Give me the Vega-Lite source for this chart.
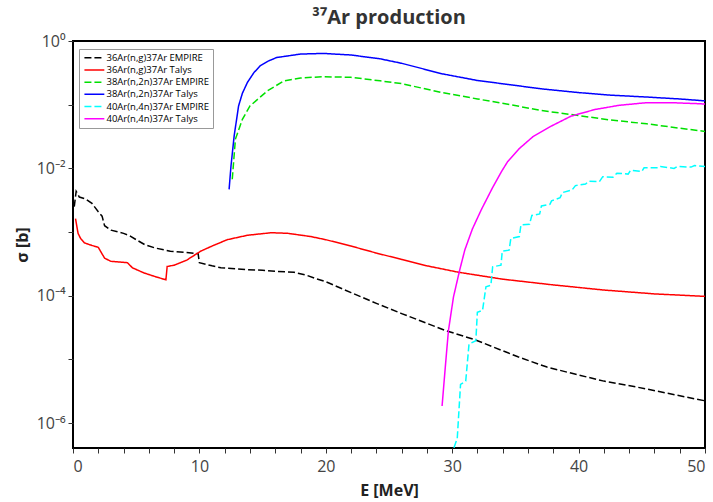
{
  "$schema": "https://vega.github.io/schema/vega-lite/v6.json",
  "autosize": {"type": "none"},
  "padding": {"left": 73, "top": 41, "right": 8, "bottom": 54},
  "width": 632,
  "height": 407,
  "background": "white",
  "title": {"text": "³⁷Ar production", "fontSize": 20, "fontWeight": "bold", "color": "#333333", "font": "Open Sans", "anchor": "middle", "offset": 5},
  "config": {
    "view": {"stroke": "#000000", "strokeWidth": 2},
    "axis": {"domain": false, "grid": false, "labelFont": "Open Sans", "labelFontSize": 16, "labelColor": "#444444", "tickColor": "#333333", "tickSize": 5, "tickWidth": 1, "titleFont": "Open Sans", "titleFontSize": 16, "titleFontWeight": "bold", "titleColor": "#222222"},
    "legend": {"labelFont": "Open Sans", "labelFontSize": 9.5, "labelColor": "#000000"}
  },
  "data": {"values": [
    {"series": "36Ar(n,g)37Ar EMPIRE", "E": 0.1, "sigma": 2.512e-3},
    {"series": "36Ar(n,g)37Ar EMPIRE", "E": 0.25, "sigma": 4.365e-3},
    {"series": "36Ar(n,g)37Ar EMPIRE", "E": 0.5, "sigma": 3.548e-3},
    {"series": "36Ar(n,g)37Ar EMPIRE", "E": 1.0, "sigma": 3.311e-3},
    {"series": "36Ar(n,g)37Ar EMPIRE", "E": 1.5, "sigma": 2.818e-3},
    {"series": "36Ar(n,g)37Ar EMPIRE", "E": 2.0, "sigma": 2.089e-3},
    {"series": "36Ar(n,g)37Ar EMPIRE", "E": 2.3, "sigma": 1.778e-3},
    {"series": "36Ar(n,g)37Ar EMPIRE", "E": 2.5, "sigma": 1.259e-3},
    {"series": "36Ar(n,g)37Ar EMPIRE", "E": 3.0, "sigma": 1.072e-3},
    {"series": "36Ar(n,g)37Ar EMPIRE", "E": 4.0, "sigma": 9.55e-4},
    {"series": "36Ar(n,g)37Ar EMPIRE", "E": 4.5, "sigma": 8.71e-4},
    {"series": "36Ar(n,g)37Ar EMPIRE", "E": 5.0, "sigma": 7.59e-4},
    {"series": "36Ar(n,g)37Ar EMPIRE", "E": 5.7, "sigma": 6.31e-4},
    {"series": "36Ar(n,g)37Ar EMPIRE", "E": 6.5, "sigma": 5.62e-4},
    {"series": "36Ar(n,g)37Ar EMPIRE", "E": 7.7, "sigma": 5.01e-4},
    {"series": "36Ar(n,g)37Ar EMPIRE", "E": 9.0, "sigma": 4.79e-4},
    {"series": "36Ar(n,g)37Ar EMPIRE", "E": 9.9, "sigma": 4.57e-4},
    {"series": "36Ar(n,g)37Ar EMPIRE", "E": 10.0, "sigma": 3.31e-4},
    {"series": "36Ar(n,g)37Ar EMPIRE", "E": 11.0, "sigma": 2.95e-4},
    {"series": "36Ar(n,g)37Ar EMPIRE", "E": 11.7, "sigma": 2.75e-4},
    {"series": "36Ar(n,g)37Ar EMPIRE", "E": 13.8, "sigma": 2.57e-4},
    {"series": "36Ar(n,g)37Ar EMPIRE", "E": 15.0, "sigma": 2.51e-4},
    {"series": "36Ar(n,g)37Ar EMPIRE", "E": 16.2, "sigma": 2.40e-4},
    {"series": "36Ar(n,g)37Ar EMPIRE", "E": 17.5, "sigma": 2.34e-4},
    {"series": "36Ar(n,g)37Ar EMPIRE", "E": 18.5, "sigma": 2.09e-4},
    {"series": "36Ar(n,g)37Ar EMPIRE", "E": 19.2, "sigma": 1.86e-4},
    {"series": "36Ar(n,g)37Ar EMPIRE", "E": 20.0, "sigma": 1.66e-4},
    {"series": "36Ar(n,g)37Ar EMPIRE", "E": 22.0, "sigma": 1.12e-4},
    {"series": "36Ar(n,g)37Ar EMPIRE", "E": 24.0, "sigma": 7.59e-5},
    {"series": "36Ar(n,g)37Ar EMPIRE", "E": 26.0, "sigma": 5.25e-5},
    {"series": "36Ar(n,g)37Ar EMPIRE", "E": 29.4, "sigma": 2.88e-5},
    {"series": "36Ar(n,g)37Ar EMPIRE", "E": 31.8, "sigma": 2.04e-5},
    {"series": "36Ar(n,g)37Ar EMPIRE", "E": 35.2, "sigma": 1.10e-5},
    {"series": "36Ar(n,g)37Ar EMPIRE", "E": 37.5, "sigma": 7.59e-6},
    {"series": "36Ar(n,g)37Ar EMPIRE", "E": 39.7, "sigma": 5.89e-6},
    {"series": "36Ar(n,g)37Ar EMPIRE", "E": 42.0, "sigma": 4.57e-6},
    {"series": "36Ar(n,g)37Ar EMPIRE", "E": 44.5, "sigma": 3.72e-6},
    {"series": "36Ar(n,g)37Ar EMPIRE", "E": 47.0, "sigma": 2.95e-6},
    {"series": "36Ar(n,g)37Ar EMPIRE", "E": 50.0, "sigma": 2.24e-6},

    {"series": "36Ar(n,g)37Ar Talys", "E": 0.2, "sigma": 1.622e-3},
    {"series": "36Ar(n,g)37Ar Talys", "E": 0.4, "sigma": 9.55e-4},
    {"series": "36Ar(n,g)37Ar Talys", "E": 0.6, "sigma": 7.94e-4},
    {"series": "36Ar(n,g)37Ar Talys", "E": 0.9, "sigma": 6.76e-4},
    {"series": "36Ar(n,g)37Ar Talys", "E": 1.5, "sigma": 6.17e-4},
    {"series": "36Ar(n,g)37Ar Talys", "E": 2.0, "sigma": 5.75e-4},
    {"series": "36Ar(n,g)37Ar Talys", "E": 2.5, "sigma": 3.89e-4},
    {"series": "36Ar(n,g)37Ar Talys", "E": 3.0, "sigma": 3.47e-4},
    {"series": "36Ar(n,g)37Ar Talys", "E": 4.3, "sigma": 3.31e-4},
    {"series": "36Ar(n,g)37Ar Talys", "E": 4.7, "sigma": 2.75e-4},
    {"series": "36Ar(n,g)37Ar Talys", "E": 5.6, "sigma": 2.29e-4},
    {"series": "36Ar(n,g)37Ar Talys", "E": 6.5, "sigma": 2.00e-4},
    {"series": "36Ar(n,g)37Ar Talys", "E": 7.35, "sigma": 1.78e-4},
    {"series": "36Ar(n,g)37Ar Talys", "E": 7.45, "sigma": 2.88e-4},
    {"series": "36Ar(n,g)37Ar Talys", "E": 8.0, "sigma": 3.02e-4},
    {"series": "36Ar(n,g)37Ar Talys", "E": 9.0, "sigma": 3.63e-4},
    {"series": "36Ar(n,g)37Ar Talys", "E": 10.1, "sigma": 5.01e-4},
    {"series": "36Ar(n,g)37Ar Talys", "E": 11.0, "sigma": 6.03e-4},
    {"series": "36Ar(n,g)37Ar Talys", "E": 12.2, "sigma": 7.59e-4},
    {"series": "36Ar(n,g)37Ar Talys", "E": 13.8, "sigma": 8.91e-4},
    {"series": "36Ar(n,g)37Ar Talys", "E": 15.7, "sigma": 9.77e-4},
    {"series": "36Ar(n,g)37Ar Talys", "E": 17.0, "sigma": 9.55e-4},
    {"series": "36Ar(n,g)37Ar Talys", "E": 18.8, "sigma": 8.51e-4},
    {"series": "36Ar(n,g)37Ar Talys", "E": 20.0, "sigma": 7.59e-4},
    {"series": "36Ar(n,g)37Ar Talys", "E": 22.0, "sigma": 6.03e-4},
    {"series": "36Ar(n,g)37Ar Talys", "E": 24.0, "sigma": 4.68e-4},
    {"series": "36Ar(n,g)37Ar Talys", "E": 26.0, "sigma": 3.72e-4},
    {"series": "36Ar(n,g)37Ar Talys", "E": 28.0, "sigma": 2.95e-4},
    {"series": "36Ar(n,g)37Ar Talys", "E": 30.5, "sigma": 2.34e-4},
    {"series": "36Ar(n,g)37Ar Talys", "E": 34.0, "sigma": 1.82e-4},
    {"series": "36Ar(n,g)37Ar Talys", "E": 38.0, "sigma": 1.48e-4},
    {"series": "36Ar(n,g)37Ar Talys", "E": 42.0, "sigma": 1.23e-4},
    {"series": "36Ar(n,g)37Ar Talys", "E": 46.0, "sigma": 1.07e-4},
    {"series": "36Ar(n,g)37Ar Talys", "E": 50.0, "sigma": 9.77e-5},

    {"series": "38Ar(n,2n)37Ar EMPIRE", "E": 12.6, "sigma": 6.76e-3},
    {"series": "38Ar(n,2n)37Ar EMPIRE", "E": 12.85, "sigma": 2.88e-2},
    {"series": "38Ar(n,2n)37Ar EMPIRE", "E": 13.4, "sigma": 5.89e-2},
    {"series": "38Ar(n,2n)37Ar EMPIRE", "E": 14.0, "sigma": 9.55e-2},
    {"series": "38Ar(n,2n)37Ar EMPIRE", "E": 15.4, "sigma": 0.166},
    {"series": "38Ar(n,2n)37Ar EMPIRE", "E": 16.7, "sigma": 0.237},
    {"series": "38Ar(n,2n)37Ar EMPIRE", "E": 18.0, "sigma": 0.263},
    {"series": "38Ar(n,2n)37Ar EMPIRE", "E": 19.8, "sigma": 0.275},
    {"series": "38Ar(n,2n)37Ar EMPIRE", "E": 22.0, "sigma": 0.269},
    {"series": "38Ar(n,2n)37Ar EMPIRE", "E": 24.3, "sigma": 0.237},
    {"series": "38Ar(n,2n)37Ar EMPIRE", "E": 26.0, "sigma": 0.214},
    {"series": "38Ar(n,2n)37Ar EMPIRE", "E": 29.2, "sigma": 0.155},
    {"series": "38Ar(n,2n)37Ar EMPIRE", "E": 32.0, "sigma": 0.123},
    {"series": "38Ar(n,2n)37Ar EMPIRE", "E": 34.6, "sigma": 0.100},
    {"series": "38Ar(n,2n)37Ar EMPIRE", "E": 37.0, "sigma": 8.13e-2},
    {"series": "38Ar(n,2n)37Ar EMPIRE", "E": 40.0, "sigma": 6.76e-2},
    {"series": "38Ar(n,2n)37Ar EMPIRE", "E": 42.5, "sigma": 5.75e-2},
    {"series": "38Ar(n,2n)37Ar EMPIRE", "E": 45.4, "sigma": 5.01e-2},
    {"series": "38Ar(n,2n)37Ar EMPIRE", "E": 48.0, "sigma": 4.27e-2},
    {"series": "38Ar(n,2n)37Ar EMPIRE", "E": 50.0, "sigma": 3.80e-2},

    {"series": "38Ar(n,2n)37Ar Talys", "E": 12.35, "sigma": 4.68e-3},
    {"series": "38Ar(n,2n)37Ar Talys", "E": 12.5, "sigma": 1.096e-2},
    {"series": "38Ar(n,2n)37Ar Talys", "E": 12.75, "sigma": 3.24e-2},
    {"series": "38Ar(n,2n)37Ar Talys", "E": 13.1, "sigma": 9.55e-2},
    {"series": "38Ar(n,2n)37Ar Talys", "E": 13.4, "sigma": 0.151},
    {"series": "38Ar(n,2n)37Ar Talys", "E": 13.8, "sigma": 0.2239},
    {"series": "38Ar(n,2n)37Ar Talys", "E": 14.3, "sigma": 0.316},
    {"series": "38Ar(n,2n)37Ar Talys", "E": 14.8, "sigma": 0.4074},
    {"series": "38Ar(n,2n)37Ar Talys", "E": 15.4, "sigma": 0.479},
    {"series": "38Ar(n,2n)37Ar Talys", "E": 16.1, "sigma": 0.5495},
    {"series": "38Ar(n,2n)37Ar Talys", "E": 18.0, "sigma": 0.6237},
    {"series": "38Ar(n,2n)37Ar Talys", "E": 19.8, "sigma": 0.6383},
    {"series": "38Ar(n,2n)37Ar Talys", "E": 22.0, "sigma": 0.6026},
    {"series": "38Ar(n,2n)37Ar Talys", "E": 24.3, "sigma": 0.5248},
    {"series": "38Ar(n,2n)37Ar Talys", "E": 26.0, "sigma": 0.4467},
    {"series": "38Ar(n,2n)37Ar Talys", "E": 29.2, "sigma": 0.3055},
    {"series": "38Ar(n,2n)37Ar Talys", "E": 32.0, "sigma": 0.2399},
    {"series": "38Ar(n,2n)37Ar Talys", "E": 34.6, "sigma": 0.2056},
    {"series": "38Ar(n,2n)37Ar Talys", "E": 37.0, "sigma": 0.1778},
    {"series": "38Ar(n,2n)37Ar Talys", "E": 40.0, "sigma": 0.1549},
    {"series": "38Ar(n,2n)37Ar Talys", "E": 42.5, "sigma": 0.1413},
    {"series": "38Ar(n,2n)37Ar Talys", "E": 45.4, "sigma": 0.1318},
    {"series": "38Ar(n,2n)37Ar Talys", "E": 48.0, "sigma": 0.1230},
    {"series": "38Ar(n,2n)37Ar Talys", "E": 50.0, "sigma": 0.1148},

    {"series": "40Ar(n,4n)37Ar EMPIRE", "E": 30.05, "sigma": 2.0e-7},
    {"series": "40Ar(n,4n)37Ar EMPIRE", "E": 30.13, "sigma": 4.07e-7},
    {"series": "40Ar(n,4n)37Ar EMPIRE", "E": 30.4, "sigma": 5.75e-7},
    {"series": "40Ar(n,4n)37Ar EMPIRE", "E": 30.66, "sigma": 4.07e-6},
    {"series": "40Ar(n,4n)37Ar EMPIRE", "E": 31.07, "sigma": 4.57e-6},
    {"series": "40Ar(n,4n)37Ar EMPIRE", "E": 31.33, "sigma": 1.74e-5},
    {"series": "40Ar(n,4n)37Ar EMPIRE", "E": 31.87, "sigma": 1.97e-5},
    {"series": "40Ar(n,4n)37Ar EMPIRE", "E": 31.99, "sigma": 5.50e-5},
    {"series": "40Ar(n,4n)37Ar EMPIRE", "E": 32.4, "sigma": 5.89e-5},
    {"series": "40Ar(n,4n)37Ar EMPIRE", "E": 32.67, "sigma": 1.38e-4},
    {"series": "40Ar(n,4n)37Ar EMPIRE", "E": 33.06, "sigma": 1.46e-4},
    {"series": "40Ar(n,4n)37Ar EMPIRE", "E": 33.2, "sigma": 2.85e-4},
    {"series": "40Ar(n,4n)37Ar EMPIRE", "E": 33.86, "sigma": 3.02e-4},
    {"series": "40Ar(n,4n)37Ar EMPIRE", "E": 33.96, "sigma": 5.01e-4},
    {"series": "40Ar(n,4n)37Ar EMPIRE", "E": 34.5, "sigma": 5.19e-4},
    {"series": "40Ar(n,4n)37Ar EMPIRE", "E": 34.64, "sigma": 7.94e-4},
    {"series": "40Ar(n,4n)37Ar EMPIRE", "E": 35.31, "sigma": 8.51e-4},
    {"series": "40Ar(n,4n)37Ar EMPIRE", "E": 35.44, "sigma": 1.30e-3},
    {"series": "40Ar(n,4n)37Ar EMPIRE", "E": 36.12, "sigma": 1.33e-3},
    {"series": "40Ar(n,4n)37Ar EMPIRE", "E": 36.3, "sigma": 1.82e-3},
    {"series": "40Ar(n,4n)37Ar EMPIRE", "E": 36.92, "sigma": 1.93e-3},
    {"series": "40Ar(n,4n)37Ar EMPIRE", "E": 37.06, "sigma": 2.57e-3},
    {"series": "40Ar(n,4n)37Ar EMPIRE", "E": 37.73, "sigma": 2.72e-3},
    {"series": "40Ar(n,4n)37Ar EMPIRE", "E": 37.86, "sigma": 3.09e-3},
    {"series": "40Ar(n,4n)37Ar EMPIRE", "E": 38.54, "sigma": 3.47e-3},
    {"series": "40Ar(n,4n)37Ar EMPIRE", "E": 38.72, "sigma": 4.17e-3},
    {"series": "40Ar(n,4n)37Ar EMPIRE", "E": 39.48, "sigma": 4.57e-3},
    {"series": "40Ar(n,4n)37Ar EMPIRE", "E": 39.75, "sigma": 5.37e-3},
    {"series": "40Ar(n,4n)37Ar EMPIRE", "E": 40.55, "sigma": 5.69e-3},
    {"series": "40Ar(n,4n)37Ar EMPIRE", "E": 40.82, "sigma": 6.31e-3},
    {"series": "40Ar(n,4n)37Ar EMPIRE", "E": 41.64, "sigma": 6.17e-3},
    {"series": "40Ar(n,4n)37Ar EMPIRE", "E": 41.91, "sigma": 7.41e-3},
    {"series": "40Ar(n,4n)37Ar EMPIRE", "E": 42.71, "sigma": 7.24e-3},
    {"series": "40Ar(n,4n)37Ar EMPIRE", "E": 43.03, "sigma": 8.41e-3},
    {"series": "40Ar(n,4n)37Ar EMPIRE", "E": 43.92, "sigma": 8.13e-3},
    {"series": "40Ar(n,4n)37Ar EMPIRE", "E": 44.11, "sigma": 9.33e-3},
    {"series": "40Ar(n,4n)37Ar EMPIRE", "E": 45.0, "sigma": 8.91e-3},
    {"series": "40Ar(n,4n)37Ar EMPIRE", "E": 45.18, "sigma": 1.023e-2},
    {"series": "40Ar(n,4n)37Ar EMPIRE", "E": 46.34, "sigma": 1.023e-2},
    {"series": "40Ar(n,4n)37Ar EMPIRE", "E": 46.48, "sigma": 1.072e-2},
    {"series": "40Ar(n,4n)37Ar EMPIRE", "E": 47.55, "sigma": 1.0e-2},
    {"series": "40Ar(n,4n)37Ar EMPIRE", "E": 47.82, "sigma": 1.072e-2},
    {"series": "40Ar(n,4n)37Ar EMPIRE", "E": 48.9, "sigma": 1.047e-2},
    {"series": "40Ar(n,4n)37Ar EMPIRE", "E": 49.17, "sigma": 1.109e-2},
    {"series": "40Ar(n,4n)37Ar EMPIRE", "E": 50.0, "sigma": 1.072e-2},

    {"series": "40Ar(n,4n)37Ar Talys", "E": 29.2, "sigma": 1.86e-6},
    {"series": "40Ar(n,4n)37Ar Talys", "E": 29.45, "sigma": 7.41e-6},
    {"series": "40Ar(n,4n)37Ar Talys", "E": 29.7, "sigma": 2.82e-5},
    {"series": "40Ar(n,4n)37Ar Talys", "E": 30.1, "sigma": 9.55e-5},
    {"series": "40Ar(n,4n)37Ar Talys", "E": 30.6, "sigma": 2.57e-4},
    {"series": "40Ar(n,4n)37Ar Talys", "E": 31.0, "sigma": 5.25e-4},
    {"series": "40Ar(n,4n)37Ar Talys", "E": 31.6, "sigma": 1.122e-3},
    {"series": "40Ar(n,4n)37Ar Talys", "E": 32.3, "sigma": 2.239e-3},
    {"series": "40Ar(n,4n)37Ar Talys", "E": 33.2, "sigma": 5.01e-3},
    {"series": "40Ar(n,4n)37Ar Talys", "E": 33.9, "sigma": 8.91e-3},
    {"series": "40Ar(n,4n)37Ar Talys", "E": 34.4, "sigma": 1.288e-2},
    {"series": "40Ar(n,4n)37Ar Talys", "E": 35.3, "sigma": 2.04e-2},
    {"series": "40Ar(n,4n)37Ar Talys", "E": 36.4, "sigma": 3.16e-2},
    {"series": "40Ar(n,4n)37Ar Talys", "E": 37.8, "sigma": 4.57e-2},
    {"series": "40Ar(n,4n)37Ar Talys", "E": 39.4, "sigma": 6.61e-2},
    {"series": "40Ar(n,4n)37Ar Talys", "E": 41.3, "sigma": 8.41e-2},
    {"series": "40Ar(n,4n)37Ar Talys", "E": 43.2, "sigma": 9.77e-2},
    {"series": "40Ar(n,4n)37Ar Talys", "E": 45.3, "sigma": 0.1072},
    {"series": "40Ar(n,4n)37Ar Talys", "E": 47.5, "sigma": 0.1072},
    {"series": "40Ar(n,4n)37Ar Talys", "E": 49.6, "sigma": 0.1035},
    {"series": "40Ar(n,4n)37Ar Talys", "E": 50.0, "sigma": 0.1023}
  ]},
  "mark": {"type": "line", "strokeWidth": 1.5, "clip": true},
  "encoding": {
    "x": {"field": "E", "type": "quantitative", "scale": {"domain": [0, 50], "nice": false, "zero": false},
      "axis": {"title": "E [MeV]", "values": [0,2,4,6,8,10,12,14,16,18,20,22,24,26,28,30,32,34,36,38,40,42,44,46,48,50], "labelExpr": "datum.value % 10 == 0 ? datum.label : ''", "labelPadding": 5, "titlePadding": 8}},
    "y": {"field": "sigma", "type": "quantitative", "scale": {"type": "log", "domain": [4.07e-7, 1], "nice": false},
      "axis": {"title": "σ [b]", "values": [1, 0.1, 0.01, 0.001, 0.0001, 0.00001, 0.000001], "labelExpr": "round(log(datum.value)/LN10) == 0 ? '10⁰' : round(log(datum.value)/LN10) == -2 ? '10⁻²' : round(log(datum.value)/LN10) == -4 ? '10⁻⁴' : round(log(datum.value)/LN10) == -6 ? '10⁻⁶' : ''", "labelPadding": 3, "titlePadding": 6}},
    "color": {"field": "series", "type": "nominal",
      "scale": {"domain": ["36Ar(n,g)37Ar EMPIRE", "36Ar(n,g)37Ar Talys", "38Ar(n,2n)37Ar EMPIRE", "38Ar(n,2n)37Ar Talys", "40Ar(n,4n)37Ar EMPIRE", "40Ar(n,4n)37Ar Talys"],
        "range": ["#000000", "#ff0000", "#00e000", "#0000ff", "#00ffff", "#ff00ff"]},
      "legend": {"title": null, "orient": "none", "legendX": 6, "legendY": 8, "symbolType": "M-1,0H5", "symbolSize": 44, "symbolStrokeWidth": 1.5, "strokeColor": "#999999", "fillColor": "#ffffff", "padding": 4, "rowPadding": 1.2, "labelOffset": 14}},
    "strokeDash": {"field": "series", "type": "nominal",
      "scale": {"domain": ["36Ar(n,g)37Ar EMPIRE", "36Ar(n,g)37Ar Talys", "38Ar(n,2n)37Ar EMPIRE", "38Ar(n,2n)37Ar Talys", "40Ar(n,4n)37Ar EMPIRE", "40Ar(n,4n)37Ar Talys"],
        "range": [[7, 3], [1, 0], [7, 3], [1, 0], [7, 3], [1, 0]]},
      "legend": null}
  }
}
